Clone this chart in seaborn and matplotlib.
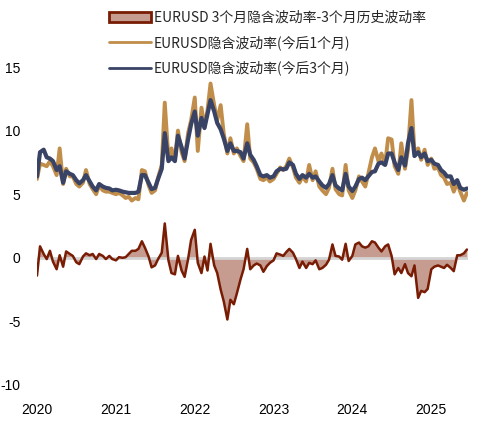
import numpy as np
import pandas as pd
import matplotlib
matplotlib.use("Agg")
import matplotlib.pyplot as plt
from matplotlib.patches import Patch
from matplotlib.lines import Line2D
import seaborn as sns

# ---- data (semi-monthly readings, Jan 2020 - Jun 2025) ----
dates = pd.date_range("2020-01-01", periods=132, freq="SMS")

vol_1m = [6.2, 7.4, 7.3, 7.2, 7.6, 7.2, 6.5, 8.6, 5.8, 7.0, 6.4, 6.4, 5.8, 5.6, 5.9, 6.9,
          5.8, 5.4, 5.0, 5.7, 5.3, 5.2, 5.2, 5.1, 5.0, 5.1, 4.9, 4.7, 4.8, 4.5, 4.7, 4.6,
          6.9, 6.8, 5.7, 5.1, 5.3, 6.3, 7.3, 12.2, 7.8, 8.6, 7.7, 10.0, 8.3, 7.6, 9.8, 10.8,
          12.6, 8.4, 11.8, 10.3, 11.6, 13.7, 12.0, 10.8, 12.0, 9.8, 8.2, 9.4, 8.2, 8.6, 8.0, 7.6,
          10.5, 7.8, 7.5, 7.0, 6.2, 6.1, 6.3, 6.0, 6.2, 6.6, 7.1, 6.9, 7.2, 7.8, 7.1, 6.3,
          5.9, 6.4, 6.0, 7.3, 6.1, 6.8, 5.6, 5.3, 5.0, 5.5, 7.0, 5.4, 5.0, 4.9, 7.3, 5.3,
          4.7, 5.3, 6.4, 6.0, 5.6, 6.6, 7.9, 8.6, 7.6, 8.2, 7.4, 9.4, 9.3, 7.2, 6.6, 9.0,
          7.0, 8.5, 12.4, 8.3, 8.6, 7.7, 8.5, 7.3, 7.8, 7.0, 7.1, 6.5, 6.3, 5.8, 5.9, 5.2,
          5.9, 5.2, 4.5, 5.1]

vol_3m = [6.4, 8.3, 8.5, 7.9, 7.8, 7.6, 6.9, 7.2, 5.9, 6.8, 6.6, 6.5, 6.1, 5.85, 6.1, 6.5,
          6.0, 5.6, 5.3, 5.8, 5.6, 5.5, 5.45, 5.3, 5.35, 5.3, 5.2, 5.15, 5.1, 5.1, 5.1, 5.2,
          6.5, 6.5, 5.9, 5.4, 5.5, 6.2, 7.0, 9.8, 7.6, 7.9, 7.6, 9.6, 8.7, 7.8, 9.3, 10.5,
          11.5, 9.6, 11.0, 10.2, 11.3, 12.4, 11.5, 10.6, 10.1, 9.4, 8.4, 9.0, 8.4, 8.4, 8.3, 7.8,
          9.0, 8.1, 7.7, 7.2, 6.5, 6.4, 6.5, 6.3, 6.4, 6.8, 7.0, 6.95, 7.0, 7.5, 7.3, 6.6,
          6.2, 6.5, 6.3, 6.6, 6.3, 6.4, 6.0, 5.7, 5.5, 5.8, 6.5, 5.7, 5.45, 5.3, 6.6, 5.6,
          5.25, 5.6, 6.2, 6.3, 6.1, 6.4, 6.75, 6.8, 7.4, 7.5, 7.3, 8.2, 8.2, 7.5, 6.9, 7.9,
          7.25, 9.0, 10.2, 8.0, 8.3, 7.9, 8.2, 7.6, 7.7, 7.4, 7.3, 6.9, 6.7, 6.4, 6.4, 5.8,
          6.1, 5.5, 5.35, 5.45]

spread = [-1.4, 0.9, 0.3, -0.1, 0.55, -0.3, -0.9, 0.2, -0.7, 0.5, 0.3, 0.15, -0.35, -0.5, 0.1, 0.35,
          0.2, 0.3, -0.1, 0.3, 0.15, -0.1, 0.15, -0.1, -0.2, 0.05, 0.0, 0.05, 0.3, 0.55, 0.55, 0.7,
          1.3, 0.8, 0.1, -0.75, -0.6, -0.1, 0.4, 2.7, -0.2, -1.2, -1.3, 0.15, -1.0, -1.5, -0.1, 1.4,
          2.2, -0.4, -1.2, 0.1, -1.0, 1.1, -0.6, -1.2, -2.5, -3.4, -4.85, -3.3, -3.65, -2.8, -1.7, -0.9,
          0.7, -0.9, -0.6, -0.45, -0.6, -1.1, -0.65, -0.4, -0.2, 0.35, 0.25, 0.15, 0.45, 0.7, 0.4, -0.1,
          -0.8, -0.3, -0.8, -0.4, -0.5, -0.2, -0.9, -0.8, -0.55, -0.15, 1.05, 0.15, 0.1, -0.15, 1.1, -0.25,
          0.15, 1.05, 1.2, 0.9, 0.8, 0.9, 1.3, 1.2, 0.8, 0.5, 0.9, 1.05, 0.15, -1.3, -0.8, -1.2,
          -0.5, -1.2, -1.45, -0.6, -3.15, -2.6, -2.7, -2.45, -0.9, -0.7, -0.6, -0.7, -0.8, -0.55, -0.8, -1.05,
          0.2, 0.2, 0.35, 0.65]

year_ticks = ["2020", "2021", "2022", "2023", "2024", "2025"]
y_ticks = [-10, -5, 0, 5, 10, 15]

labels = ["EURUSD 3个月隐含波动率-3个月历史波动率",
          "EURUSD隐含波动率(今后1个月)",
          "EURUSD隐含波动率(今后3个月)"]

df = pd.DataFrame({"date": dates, "v1": vol_1m, "v3": vol_3m, "sp": spread})

# ---- style ----
sns.set_style("white")
plt.rcParams["font.family"] = ["Liberation Sans", "Noto Sans CJK SC", "DejaVu Sans"]

C_FILL = "#c69c91"
C_EDGE = "#781c04"
C_GOLD = "#c08e4a"
C_NAVY = "#394366"
C_ZERO = "#d4d4d4"

fig = plt.figure(figsize=(4.85, 4.21), dpi=100)
ax = fig.add_axes([37 / 485, 1 - 385 / 421, (468 - 37) / 485, (385 - 67) / 421])

ax.fill_between(df["date"], 0, df["sp"], color=C_FILL, linewidth=0, zorder=1)
ax.axhline(0, color=C_ZERO, lw=2.0, zorder=2)
sns.lineplot(data=df, x="date", y="sp", ax=ax, color=C_EDGE, lw=1.8, zorder=3)
sns.lineplot(data=df, x="date", y="v1", ax=ax, color=C_GOLD, lw=2.8, zorder=4)
sns.lineplot(data=df, x="date", y="v3", ax=ax, color=C_NAVY, lw=3.0, zorder=5)

ax.set_ylim(-10, 15)
ax.set_xlim(pd.Timestamp("2020-01-01"), pd.Timestamp("2025-06-20"))
ax.set_yticks(y_ticks)
ax.set_yticklabels([str(v) for v in y_ticks])
ax.set_xticks([pd.Timestamp(f"{y}-01-01") for y in year_ticks])
ax.set_xticklabels(year_ticks)
ax.tick_params(axis="both", length=0, labelsize=10, colors="black")
ax.tick_params(axis="y", pad=12)
ax.tick_params(axis="x", pad=13)
ax.set_xlabel("")
ax.set_ylabel("")
for s in ax.spines.values():
    s.set_visible(False)

handles = [Patch(facecolor=C_FILL, edgecolor=C_EDGE, linewidth=2),
           Line2D([], [], color=C_GOLD, lw=2),
           Line2D([], [], color=C_NAVY, lw=2)]
leg = fig.legend(handles, labels, loc="upper left", bbox_to_anchor=(102 / 485, 1 - 4 / 421),
                 frameon=False, borderpad=0, handlelength=3.0, handletextpad=0.25,
                 labelspacing=0.75, prop={"family": ["Noto Sans CJK SC", "DejaVu Sans"], "size": 10})

fig.savefig("out.png", dpi=100)
